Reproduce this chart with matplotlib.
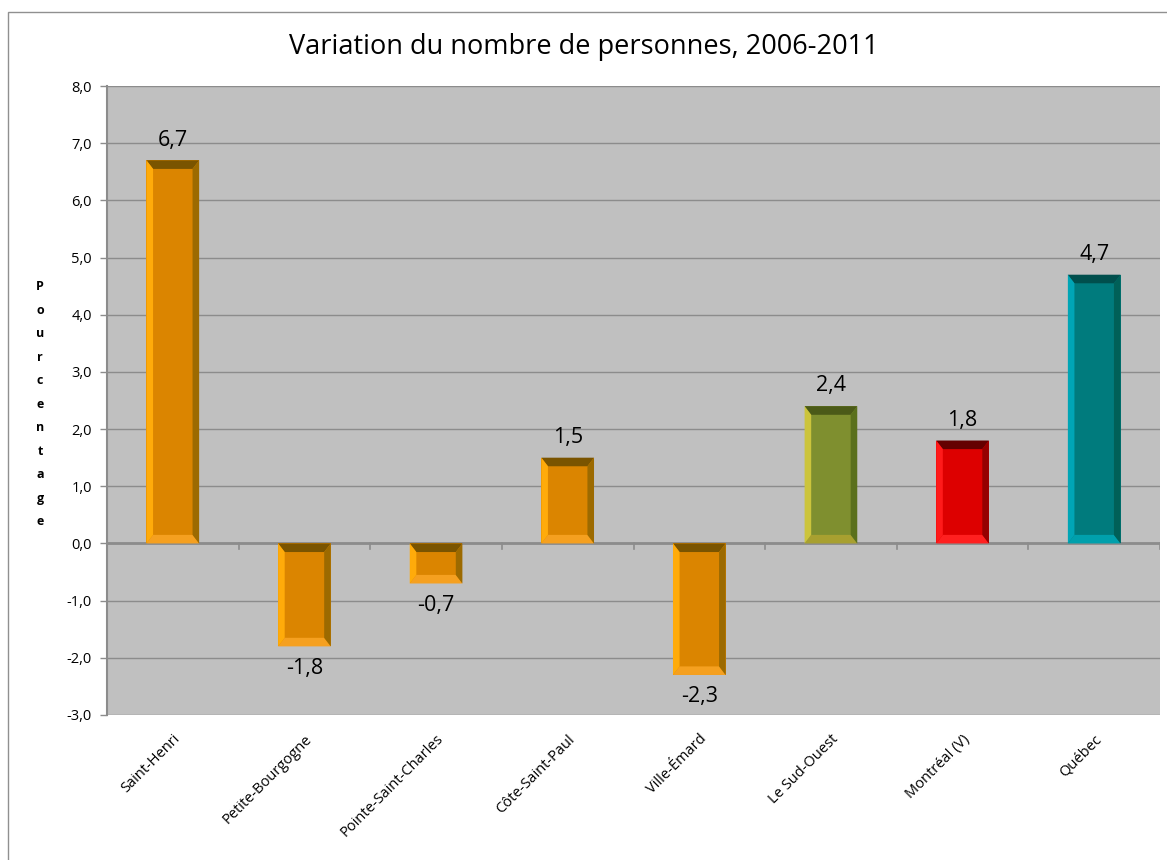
import matplotlib.pyplot as plt
import numpy as np
from matplotlib.patches import Polygon, Rectangle

categories = ["Saint-Henri", "Petite-Bourgogne", "Pointe-Saint-Charles", "Côte-Saint-Paul",
              "Ville-Émard", "Le Sud-Ouest", "Montréal (V)", "Québec"]
values = [6.7, -1.8, -0.7, 1.5, -2.3, 2.4, 1.8, 4.7]
groups = ["orange", "orange", "orange", "orange", "orange", "olive", "red", "teal"]

# main face, left edge, top edge, right edge, bottom edge
palettes = {
    "orange": ("#DB8500", "#FFAB0A", "#7A5400", "#9C6A00", "#F5A020"),
    "olive": ("#7F8F2F", "#CCC43C", "#4B5A18", "#5A701C", "#A8A030"),
    "red": ("#DD0000", "#FF1A1A", "#650000", "#950000", "#FF2020"),
    "teal": ("#007B7D", "#00A5B5", "#004F4D", "#006058", "#00A0AC"),
}

plt.rcParams["font.family"] = ["Open Sans", "DejaVu Sans"]

fig = plt.figure(figsize=(11.67, 8.6), dpi=100)
fig.patches.append(Rectangle((0.007, -0.01), 1.0, 0.996, transform=fig.transFigure,
                             fill=False, edgecolor="#909090", linewidth=1.0))
ax = fig.add_axes([107 / 1167, 1 - 715 / 860, (1160 - 107) / 1167, (715 - 86) / 860])
ax.set_facecolor("#C0C0C0")

ax.set_xlim(-0.5, len(categories) - 0.5)
ax.set_ylim(-3, 8)
ax.set_yticks(np.arange(-3, 9, 1))
ax.set_yticklabels([f"{v:.1f}".replace(".", ",") for v in np.arange(-3, 9, 1)], fontsize=10.5)
ax.yaxis.grid(True, color="#8C8C8C", linewidth=1.0)
ax.set_axisbelow(True)

for s in ["top", "right", "bottom"]:
    ax.spines[s].set_visible(False)
ax.spines["left"].set_color("#8C8C8C")
ax.spines["left"].set_linewidth(1.5)
ax.tick_params(axis="y", color="#8C8C8C", length=5, width=1, pad=6)

# zero axis line and category boundary ticks
ax.axhline(0, color="#8C8C8C", linewidth=2.0, zorder=3)
for b in np.arange(0.5, len(categories) - 0.5, 1):
    ax.plot([b, b], [0, -0.1], color="#8C8C8C", linewidth=1.2, zorder=3)
ax.plot([len(categories) - 0.5] * 2, [0, -0.1], color="#8C8C8C", linewidth=1.2, zorder=3)

ax.set_xticks(range(len(categories)))
ax.set_xticklabels(categories, rotation=45, ha="right", rotation_mode="anchor", fontsize=10.5)
ax.tick_params(axis="x", length=0, pad=12)

width = 0.4
bx = 0.05
by = 0.15
for i, (v, g) in enumerate(zip(values, groups)):
    face, left, top, right, bottom = palettes[g]
    x0, x1 = i - width / 2, i + width / 2
    y0, y1 = min(0, v), max(0, v)
    ax.add_patch(Rectangle((x0, y0), width, y1 - y0, facecolor=face, edgecolor="none", zorder=4))
    d = min(by, (y1 - y0) / 2)
    ax.add_patch(Polygon([(x0, y1), (x1, y1), (x1 - bx, y1 - d), (x0 + bx, y1 - d)],
                         facecolor=top, edgecolor="none", zorder=5))
    ax.add_patch(Polygon([(x0, y0), (x1, y0), (x1 - bx, y0 + d), (x0 + bx, y0 + d)],
                         facecolor=bottom, edgecolor="none", zorder=5))
    ax.add_patch(Polygon([(x0, y0), (x0, y1), (x0 + bx, y1 - d), (x0 + bx, y0 + d)],
                         facecolor=left, edgecolor="none", zorder=5))
    ax.add_patch(Polygon([(x1, y0), (x1, y1), (x1 - bx, y1 - d), (x1 - bx, y0 + d)],
                         facecolor=right, edgecolor="none", zorder=5))
    label = f"{v:.1f}".replace(".", ",")
    if v >= 0:
        ax.text(i, v + 0.17, label, ha="center", va="bottom", fontsize=15.5, zorder=6)
    else:
        ax.text(i, v - 0.2, label, ha="center", va="top", fontsize=15.5, zorder=6)

fig.text(0.5, 1 - 47 / 860, "Variation du nombre de personnes, 2006-2011",
         ha="center", va="center", fontsize=19.5)
fig.text(40 / 1167, 1 - 404 / 860, "\n".join("Pourcentage"), ha="center", va="center",
         fontsize=9, fontweight="bold", linespacing=2.05)

fig.savefig("out.png", dpi=100)
